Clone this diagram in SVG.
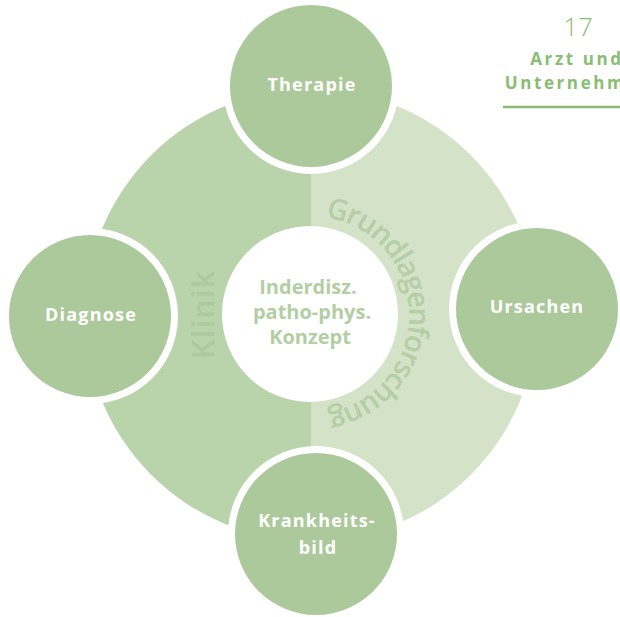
<svg xmlns="http://www.w3.org/2000/svg" width="620" height="617" viewBox="0 0 620 617">
<style>
.node{fill:#abc99a}
.gap{fill:#ffffff}
.nt{font-family:"Open Sans","Noto Sans",sans-serif;font-weight:700;font-size:18px;fill:#ffffff;text-anchor:middle;letter-spacing:1.2px}
.ct{font-family:"Open Sans","Noto Sans",sans-serif;font-weight:700;font-size:20px;fill:#b3cea3;text-anchor:middle}
.hd{font-family:"Open Sans","Noto Sans",sans-serif;fill:#88bd72;text-anchor:middle}
</style>
<defs>
<path id="arc" d="M325.3,217.2 A99,99 0 0 1 330.6,411.9"/>
</defs>
<g id="header">
<text class="hd" x="578" y="36" font-size="26" font-weight="300">17</text>
<text class="hd" x="577" y="65" font-size="17" font-weight="700" letter-spacing="2.6">Arzt und</text>
<text class="hd" x="577" y="89" font-size="17" font-weight="700" letter-spacing="2.6">Unternehmer</text>
<line x1="503" y1="107" x2="620" y2="107" stroke="#88bd72" stroke-width="2.5"/>
</g>
<g id="background">
<path d="M311,89 A226,226 0 0 0 311,541 Z" fill="#b9d3ab"/>
<path d="M311,89 A226,226 0 0 1 311,541 Z" fill="#d4e2c8"/>
<text font-family="'Open Sans','Noto Sans',sans-serif" font-weight="600" font-size="30" fill="#adc99d" text-anchor="middle" transform="translate(214,315) rotate(-90)" textLength="88" lengthAdjust="spacing">Klinik</text>
<text font-family="'Open Sans','Noto Sans',sans-serif" font-weight="600" font-size="29" fill="#b4cea5"><textPath href="#arc" textLength="278" lengthAdjust="spacing">Grundlagenforschung</textPath></text>
</g>
<g id="center">
<circle cx="310" cy="314" r="88" fill="#ffffff"/>
<text class="ct" x="308" y="294">Inderdisz.</text>
<text class="ct" x="312" y="319">patho-phys.</text>
<text class="ct" x="310" y="344">Konzept</text>
</g>
<g id="therapie">
<circle class="gap" cx="311" cy="86" r="88"/>
<circle class="node" cx="311" cy="86" r="81"/>
<text class="nt" x="312" y="91">Therapie</text>
</g>
<g id="diagnose">
<circle class="gap" cx="90" cy="316" r="88"/>
<circle class="node" cx="90" cy="316" r="81"/>
<text class="nt" x="91" y="321">Diagnose</text>
</g>
<g id="ursachen">
<circle class="gap" cx="537" cy="309" r="88"/>
<circle class="node" cx="537" cy="309" r="81"/>
<text class="nt" x="537" y="313">Ursachen</text>
</g>
<g id="krankheitsbild">
<circle class="gap" cx="316" cy="534" r="88"/>
<circle class="node" cx="316" cy="534" r="81"/>
<text class="nt" x="317" y="527">Krankheits-</text>
<text class="nt" x="318" y="554">bild</text>
</g>
<g id="connectors"/>
</svg>
